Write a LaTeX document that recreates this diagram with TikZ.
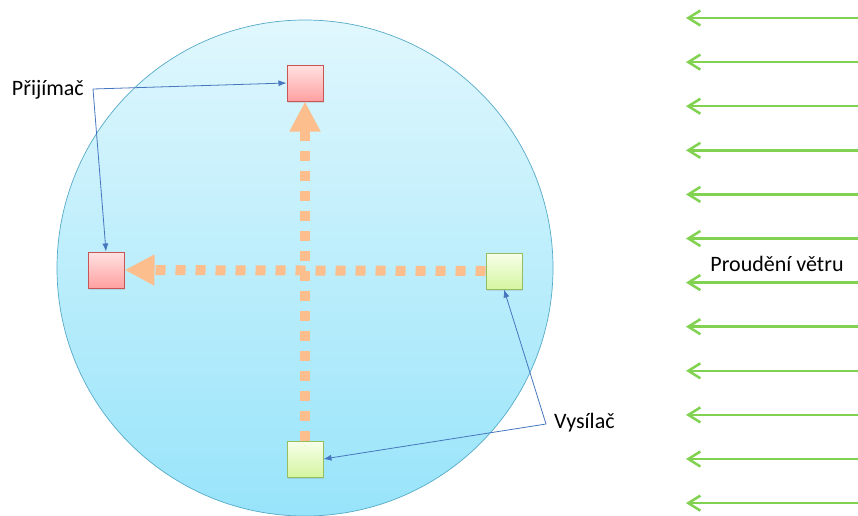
\documentclass[tikz,border=0pt]{standalone}
\usepackage{fontspec}
\setmainfont{Carlito}
\usetikzlibrary{arrows.meta, positioning, shadows}

\definecolor{skytop}{RGB}{224,247,253}
\definecolor{skybottom}{RGB}{152,228,250}
\definecolor{skyrim}{RGB}{85,170,200}
\definecolor{rxtopcol}{RGB}{255,226,226}
\definecolor{rxbotcol}{RGB}{255,160,160}
\definecolor{rxrim}{RGB}{200,85,85}
\definecolor{txtopcol}{RGB}{248,255,235}
\definecolor{txbotcol}{RGB}{212,245,160}
\definecolor{txrim}{RGB}{150,190,95}
\definecolor{beamcol}{RGB}{251,190,140}
\definecolor{ptrblue}{RGB}{70,118,190}
\definecolor{windgreen}{RGB}{128,210,80}

\begin{document}
\begin{tikzpicture}[x=1pt, y=-1pt,
    box/.style={line width=1pt, minimum size=36pt, inner sep=0pt, drop shadow={opacity=0.2, shadow xshift=1pt, shadow yshift=-1.5pt}},
    rx/.style={box, draw=rxrim, top color=rxtopcol, bottom color=rxbotcol},
    tx/.style={box, draw=txrim, top color=txtopcol, bottom color=txbotcol},
    beam/.style={draw=beamcol, line width=10pt, dash pattern=on 10pt off 10pt, -{Triangle[length=30pt, width=29pt]}},
    pointer/.style={draw=ptrblue, line width=0.8pt, -{Latex[length=8pt, width=6pt]}},
    wind/.style={draw=windgreen, line width=2.5pt, -{Straight Barb[length=12pt, width=15pt]}},
    lbl/.style={font=\fontsize{22}{26}\selectfont, inner sep=2pt}]
    \useasboundingbox (0,0) rectangle (858,515);

    % measuring area
    \draw[skyrim, line width=0.7pt, top color=skytop, bottom color=skybottom] (305,268) circle[radius=248];

    \node[rx] (rxtop) at (305,83) {};
    \node[rx] (rxleft) at (106,270) {};
    \node[tx] (txright) at (504,271) {};
    \node[tx] (txbottom) at (305,459) {};

    \draw[beam] (txright.west) -- (rxleft.east);
    \draw[beam] (txbottom.north) -- (rxtop.south);

    \node[lbl, anchor=east] (lblrx) at (86,90) {Přijímač};
    \node[lbl, anchor=west] (lbltx) at (552,423) {Vysílač};
    \coordinate (rxjoin) at (93,89);
    \coordinate (txjoin) at (546,424);

    \draw[pointer] (rxjoin) -- (rxtop.west);
    \draw[pointer] (rxjoin) -- (rxleft.north);
    \draw[pointer] (txjoin) -- (txbottom.east);
    \draw[pointer] (txjoin) -- (txright.south);

    % wind
    \foreach \i in {0,...,11} {
        \coordinate (ws\i) at (858, 18+44.1*\i);
        \coordinate (we\i) at (686, 18+44.1*\i);
        \draw[wind] (ws\i) -- (we\i);
    }
    \node[lbl] (lblwind) at (777,264) {Proudění větru};
\end{tikzpicture}
\end{document}
